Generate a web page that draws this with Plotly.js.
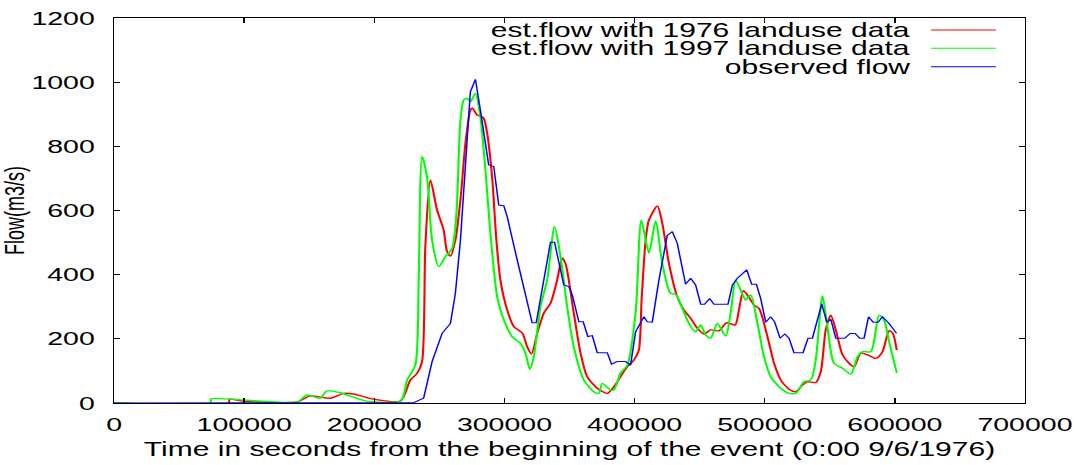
<!DOCTYPE html>
<html>
<head>
<meta charset="utf-8">
<script src="https://cdn.plot.ly/plotly-3.0.1.min.js"></script>
<style>
  html, body { margin: 0; padding: 0; overflow: hidden; background: #fff; }
  #chart { width: 719px; height: 465px; transform: scaleX(1.50069); transform-origin: 0 0; }
</style>
</head>
<body>
<div id="chart"></div>
<script>
// ---- data ----
var seriesNames = ["est.flow with 1976 landuse data", "est.flow with 1997 landuse data", "observed flow"];
var xTicks = [0, 100000, 200000, 300000, 400000, 500000, 600000, 700000];
var yTicks = [0, 200, 400, 600, 800, 1000, 1200];

var t1976 = [0, 88000, 88700, 99500, 140500, 150800, 166200, 176400, 184100, 199500, 220000, 227700, 232800, 236700, 239200, 243100, 248200, 253300, 255900, 258500, 262300, 266200, 270000, 273800, 275200, 279000, 281500, 284100, 286700, 290500, 293800, 296900, 302100, 307200, 313600, 317500, 320800, 325200, 330200, 335400, 340500, 344400, 346900, 353300, 358500, 363600, 371300, 379000, 384100, 389200, 394400, 399500, 403300, 405400, 408500, 411000, 417500, 421300, 426400, 432800, 437900, 443100, 448200, 453300, 458500, 464800, 470800, 477100, 480200, 483600, 486700, 491800, 495600, 502100, 507200, 512300, 518700, 523800, 529000, 532800, 539200, 543100, 546900, 550800, 554600, 559800, 564800, 568700, 573800, 579000, 585400, 590500, 595600, 598200, 601500];
var v1976 = [0, 0, 12, 6, 3, 22, 15, 30, 28, 12, 6, 72, 92, 129, 487, 695, 602, 539, 472, 458, 508, 633, 809, 913, 920, 898, 895, 887, 841, 705, 508, 383, 290, 238, 219, 175, 153, 217, 280, 311, 383, 451, 435, 280, 155, 82, 46, 30, 51, 82, 113, 134, 165, 321, 508, 570, 614, 560, 435, 331, 290, 264, 233, 215, 228, 225, 250, 243, 290, 350, 337, 305, 295, 207, 124, 72, 43, 35, 56, 66, 64, 98, 228, 274, 228, 150, 124, 113, 155, 150, 139, 160, 225, 219, 165];

var t1997 = [0, 74000, 74600, 89200, 140500, 148200, 158500, 163600, 173800, 184100, 194400, 220000, 225200, 231500, 234100, 236700, 240500, 244400, 249500, 254600, 259800, 263100, 266200, 268700, 271300, 273800, 277700, 281500, 285400, 289200, 294400, 299500, 305900, 312300, 316200, 319500, 322500, 327700, 332800, 338500, 343100, 348200, 353300, 361000, 368700, 372500, 375200, 381500, 384100, 389200, 394400, 400800, 405200, 411000, 416200, 421300, 427700, 431500, 436700, 441800, 446900, 450800, 454600, 458500, 463600, 470000, 473800, 477700, 481500, 485400, 489200, 494400, 499500, 504600, 512300, 518700, 523800, 530200, 535400, 539200, 544400, 548200, 553300, 559800, 566200, 571300, 575200, 581500, 587900, 591700, 595600, 601500];
var v1997 = [0, 0, 13, 12, 3, 25, 15, 38, 32, 18, 6, 6, 72, 118, 383, 768, 705, 508, 425, 456, 482, 591, 882, 944, 950, 939, 965, 892, 726, 529, 331, 259, 207, 186, 155, 105, 144, 300, 383, 550, 456, 300, 175, 72, 35, 30, 61, 41, 41, 93, 118, 280, 570, 467, 567, 435, 342, 339, 295, 248, 222, 243, 212, 202, 248, 209, 280, 383, 352, 321, 337, 248, 144, 82, 46, 30, 30, 66, 72, 134, 334, 238, 124, 108, 90, 144, 160, 160, 274, 259, 191, 93];

var tObs = [0, 223800, 230200, 237900, 244400, 252100, 258500, 262300, 264800, 266200, 273800, 277700, 281500, 287900, 291800, 295600, 299500, 302100, 309800, 317500, 321300, 324400, 330200, 335400, 338500, 345600, 349500, 352100, 357200, 360500, 364100, 367500, 371300, 379000, 382300, 386700, 393100, 396900, 400800, 407200, 409800, 413600, 418700, 425100, 429000, 432800, 439200, 443100, 446900, 450800, 453800, 457700, 461000, 471800, 475200, 479000, 486200, 490000, 493600, 496900, 500800, 504600, 507700, 511800, 515400, 518700, 522500, 529500, 533300, 536700, 543800, 547700, 550800, 554600, 561500, 565600, 569500, 573100, 576400, 579800, 583300, 587200, 590500, 595600, 601300];
var vObs = [0, 0, 1, 15, 129, 217, 248, 342, 446, 508, 970, 1009, 913, 742, 737, 617, 615, 581, 446, 311, 250, 250, 383, 501, 501, 368, 363, 337, 253, 253, 207, 210, 157, 157, 121, 129, 129, 118, 222, 269, 253, 252, 383, 522, 534, 498, 370, 389, 368, 308, 308, 326, 308, 308, 368, 389, 415, 370, 370, 326, 252, 269, 252, 202, 215, 202, 157, 157, 202, 202, 309, 252, 261, 202, 202, 217, 217, 202, 202, 269, 252, 252, 269, 248, 217];

var seriesColors = ["#ff0000", "#00ff00", "#0000ff"];

// ---- traces ----
var traces = [
  {x: t1976, y: v1976, name: seriesNames[0], mode: "lines", line: {color: seriesColors[0], width: 1.4, shape: "spline", smoothing: 0.7}},
  {x: t1997, y: v1997, name: seriesNames[1], mode: "lines", line: {color: seriesColors[1], width: 1.4, shape: "spline", smoothing: 0.7}},
  {x: tObs, y: vObs, name: seriesNames[2], mode: "lines", line: {color: seriesColors[2], width: 1.0}}
];

var font = "Liberation Sans, Arial, Helvetica, sans-serif";
var legendY = [0.9688, 0.9213, 0.8735];
var annotations = [], shapes = [];
for (var i = 0; i < seriesNames.length; i++) {
  annotations.push({xref: "paper", yref: "paper", x: 0.878, y: legendY[i], xanchor: "right", yanchor: "middle",
    text: seriesNames[i], showarrow: false, font: {family: font, size: 20, color: "#000"}});
  shapes.push({type: "line", xref: "paper", yref: "paper", x0: 0.8968, x1: 0.968, y0: legendY[i], y1: legendY[i],
    line: {color: seriesColors[i], width: 1}});
}

var layout = {
  width: 719, height: 465,
  margin: {l: 76, r: 36, t: 18, b: 62, pad: 0},
  paper_bgcolor: "#fff", plot_bgcolor: "#fff",
  showlegend: false,
  xaxis: {
    range: [0, 700000], tickvals: xTicks, tickformat: "d",
    ticks: "inside", ticklen: 5, tickwidth: 1, tickcolor: "#000",
    showline: true, linecolor: "#000", linewidth: 1, mirror: "ticks",
    showgrid: false, zeroline: false, ticklabelstandoff: 4,
    tickfont: {family: font, size: 19, color: "#000"},
    title: {text: "Time in seconds from the beginning of the event (0:00 9/6/1976)", font: {family: font, size: 20, color: "#000"}, standoff: 8}
  },
  yaxis: {
    range: [0, 1200], tickvals: yTicks, tickformat: "d",
    ticks: "inside", ticklen: 4, tickwidth: 1, tickcolor: "#000",
    showline: true, linecolor: "#000", linewidth: 1, mirror: "ticks",
    showgrid: false, zeroline: false, ticklabelstandoff: 8,
    tickfont: {family: font, size: 19, color: "#000"},
    title: {text: "Flow(m3/s)", font: {family: font, size: 18, color: "#000"}, standoff: 5}
  },
  annotations: annotations,
  shapes: shapes
};

Plotly.newPlot("chart", traces, layout, {staticPlot: true, displayModeBar: false});
</script>
</body>
</html>
